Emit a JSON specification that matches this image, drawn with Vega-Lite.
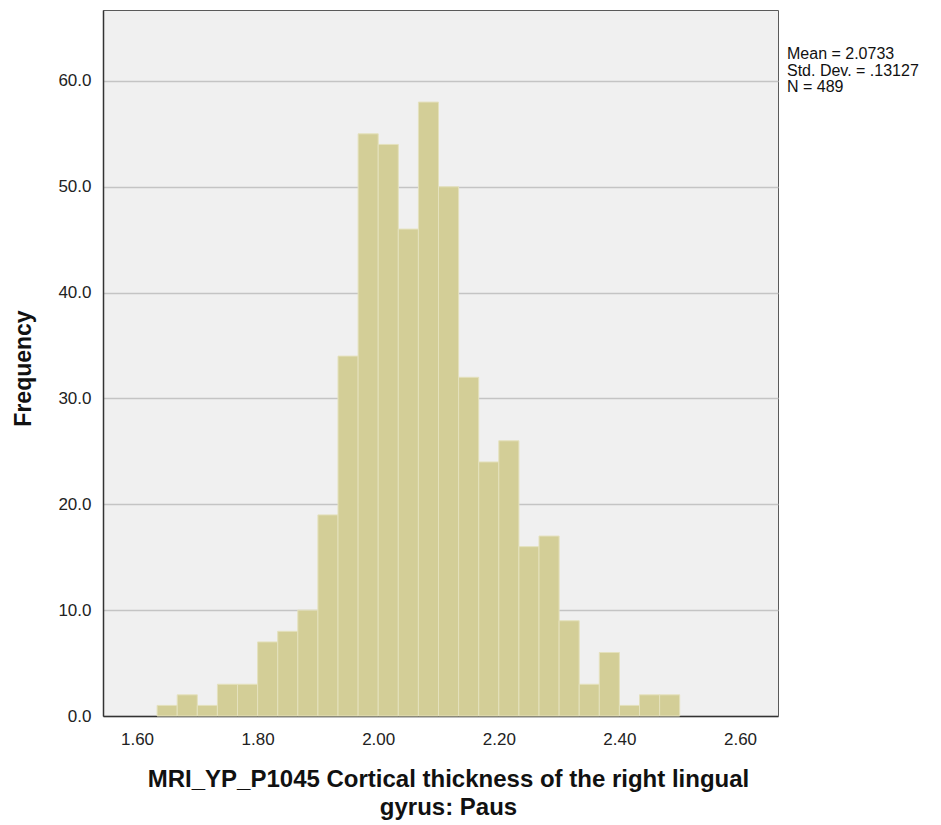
{
  "$schema": "https://vega.github.io/schema/vega-lite/v6.json",
  "width": 675,
  "height": 706,
  "autosize": {"type": "none"},
  "padding": {"left": 103, "top": 10, "right": 163, "bottom": 109},
  "background": "white",
  "config": {
    "view": {"fill": "#f0f0f0", "stroke": "#5a5a5a", "strokeWidth": 1},
    "font": "Liberation Sans",
    "axis": {"labelFont": "Liberation Sans", "titleFont": "Liberation Sans"}
  },
  "datasets": {
    "bins": [
      {"x0": 1.63333, "x1": 1.66667, "count": 1},
      {"x0": 1.66667, "x1": 1.70000, "count": 2},
      {"x0": 1.70000, "x1": 1.73333, "count": 1},
      {"x0": 1.73333, "x1": 1.76667, "count": 3},
      {"x0": 1.76667, "x1": 1.80000, "count": 3},
      {"x0": 1.80000, "x1": 1.83333, "count": 7},
      {"x0": 1.83333, "x1": 1.86667, "count": 8},
      {"x0": 1.86667, "x1": 1.90000, "count": 10},
      {"x0": 1.90000, "x1": 1.93333, "count": 19},
      {"x0": 1.93333, "x1": 1.96667, "count": 34},
      {"x0": 1.96667, "x1": 2.00000, "count": 55},
      {"x0": 2.00000, "x1": 2.03333, "count": 54},
      {"x0": 2.03333, "x1": 2.06667, "count": 46},
      {"x0": 2.06667, "x1": 2.10000, "count": 58},
      {"x0": 2.10000, "x1": 2.13333, "count": 50},
      {"x0": 2.13333, "x1": 2.16667, "count": 32},
      {"x0": 2.16667, "x1": 2.20000, "count": 24},
      {"x0": 2.20000, "x1": 2.23333, "count": 26},
      {"x0": 2.23333, "x1": 2.26667, "count": 16},
      {"x0": 2.26667, "x1": 2.30000, "count": 17},
      {"x0": 2.30000, "x1": 2.33333, "count": 9},
      {"x0": 2.33333, "x1": 2.36667, "count": 3},
      {"x0": 2.36667, "x1": 2.40000, "count": 6},
      {"x0": 2.40000, "x1": 2.43333, "count": 1},
      {"x0": 2.43333, "x1": 2.46667, "count": 2},
      {"x0": 2.46667, "x1": 2.50000, "count": 2}
    ],
    "stats": [
      {"label": "Mean = 2.0733", "xpos": 2.663, "ypos": 62.5},
      {"label": "Std. Dev. = .13127", "xpos": 2.663, "ypos": 60.95},
      {"label": "N = 489", "xpos": 2.663, "ypos": 59.4}
    ]
  },
  "layer": [
    {
      "data": {"name": "bins"},
      "mark": {"type": "bar", "fill": "#d3ce97", "stroke": "#e4e1bd", "strokeWidth": 1},
      "encoding": {
        "x": {
          "field": "x0",
          "type": "quantitative",
          "scale": {"domain": [1.5436, 2.663], "nice": false, "zero": false},
          "axis": {
            "values": [1.6, 1.8, 2.0, 2.2, 2.4, 2.6],
            "format": ".2f",
            "grid": false,
            "ticks": false,
            "labelFontSize": 17,
            "labelColor": "#222222",
            "labelPadding": 15,
            "domainColor": "#333333",
            "domainWidth": 1.5,
            "title": ["MRI_YP_P1045 Cortical thickness of the right lingual", "gyrus: Paus"],
            "titleFontSize": 24,
            "titleFontWeight": "bold",
            "titleColor": "#111111",
            "titlePadding": 20,
            "titleLineHeight": 28,
            "titleX": 345
          }
        },
        "x2": {"field": "x1"},
        "y": {
          "field": "count",
          "type": "quantitative",
          "scale": {"domain": [0, 66.7], "nice": false},
          "axis": {
            "values": [0, 10, 20, 30, 40, 50, 60],
            "format": ".1f",
            "grid": true,
            "gridColor": "#c4c4c4",
            "gridWidth": 1.5,
            "ticks": false,
            "labelFontSize": 17,
            "labelColor": "#222222",
            "labelPadding": 12,
            "domainColor": "#333333",
            "domainWidth": 1.5,
            "title": "Frequency",
            "titleFontSize": 23,
            "titleFontWeight": "bold",
            "titleColor": "#111111",
            "titlePadding": 22,
            "titleY": 358
          }
        },
        "y2": {"datum": 0}
      }
    },
    {
      "data": {"name": "stats"},
      "mark": {"type": "text", "align": "left", "baseline": "middle", "dx": 9, "fontSize": 16, "color": "#111111", "clip": false},
      "encoding": {
        "x": {"field": "xpos", "type": "quantitative"},
        "y": {"field": "ypos", "type": "quantitative"},
        "text": {"field": "label"}
      }
    }
  ]
}
